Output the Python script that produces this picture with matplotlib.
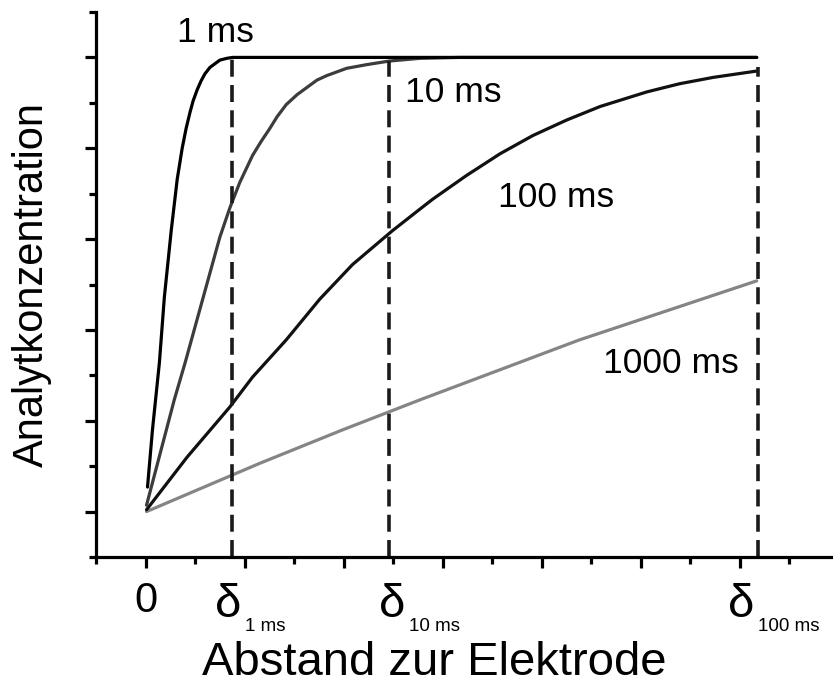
import matplotlib
matplotlib.use("Agg")
import matplotlib.pyplot as plt
from matplotlib.ticker import MultipleLocator, NullFormatter

plt.rcParams['font.family'] = ['Liberation Sans', 'DejaVu Sans']

# Werte (x: Abstand, y: Konzentration, beliebige Einheiten)
x_1ms = [0.02, 0.07, 0.14, 0.19, 0.26, 0.32, 0.37, 0.41, 0.45, 0.48, 0.52, 0.56, 0.60,
         0.65, 0.70, 0.75, 0.82, 0.88, 6.17]
y_1ms = [0.27, 0.90, 1.64, 2.36, 3.10, 3.66, 4.00, 4.22, 4.40, 4.52, 4.64, 4.74, 4.82,
         4.89, 4.93, 4.97, 4.99, 5.00, 5.00]

x_10ms = [0.01, 0.29, 0.40, 0.75, 0.85, 0.95, 1.08, 1.17, 1.25, 1.33, 1.42, 1.53, 1.63,
          1.73, 1.83, 2.03, 2.23, 2.46, 2.77, 3.17, 6.17]
y_10ms = [0.07, 1.23, 1.64, 3.02, 3.34, 3.62, 3.92, 4.08, 4.21, 4.35, 4.48, 4.59, 4.67,
          4.75, 4.80, 4.88, 4.92, 4.96, 4.99, 5.00, 5.00]

x_100ms = [0.01, 0.42, 0.85, 1.08, 1.42, 1.76, 2.09, 2.49, 2.77, 2.90, 3.24, 3.58, 3.91,
           4.25, 4.59, 5.06, 5.39, 5.73, 6.17]
y_100ms = [0.02, 0.60, 1.15, 1.48, 1.89, 2.34, 2.72, 3.09, 3.33, 3.44, 3.70, 3.94, 4.14,
           4.31, 4.46, 4.62, 4.71, 4.78, 4.85]

x_1000ms = [0.01, 1.15, 1.99, 2.77, 4.38, 6.17]
y_1000ms = [0.00, 0.53, 0.90, 1.23, 1.89, 2.54]

# Diffusionsschichtdicken (gestrichelte Linien)
delta_x = [0.87, 2.46, 6.18]
delta_top = [5.00, 4.96, 4.90]
delta_sub = ["1 ms", "10 ms", "100 ms"]

fig = plt.figure(figsize=(8.33, 6.84), dpi=100)
ax = fig.add_axes([96 / 833, 127 / 684, 737 / 833, 545 / 684])

lw = 2.3
style = dict(lw=lw, solid_capstyle="round", solid_joinstyle="round")
ax.plot(x_1000ms, y_1000ms, color="#858585", **style)
ax.plot(x_100ms, y_100ms, color="#111111", **style)
ax.plot(x_10ms, y_10ms, color="#3c3c3c", **style)
ax.plot(x_1ms, y_1ms, color="#000000", **style)

ymin, ymax = -0.5, 5.5
for xd, yt in zip(delta_x, delta_top):
    ax.plot([xd, xd], [ymin, yt], color="#1a1a1a", lw=2.6, dashes=(4.7, 2.3))

# Beschriftung der Kurven
ax.text(0.32, 5.17, "1 ms", fontsize=25.5, va="baseline", clip_on=False)
ax.text(2.62, 4.51, "10 ms", fontsize=25.5, va="baseline")
ax.text(3.56, 3.35, "100 ms", fontsize=25.5, va="baseline")
ax.text(4.62, 1.53, "1000 ms", fontsize=25.5, va="baseline")

ax.set_xlim(-0.5, 6.94)
ax.set_ylim(ymin, ymax)

for s in ["top", "right"]:
    ax.spines[s].set_visible(False)
for s in ["left", "bottom"]:
    ax.spines[s].set_linewidth(2.3)

ax.xaxis.set_major_locator(MultipleLocator(1))
ax.xaxis.set_minor_locator(MultipleLocator(0.5))
ax.yaxis.set_major_locator(MultipleLocator(1))
ax.yaxis.set_minor_locator(MultipleLocator(0.5))
ax.xaxis.set_major_formatter(NullFormatter())
ax.yaxis.set_major_formatter(NullFormatter())
ax.tick_params(which="major", length=8, width=2.3, direction="out")
ax.tick_params(which="minor", length=5, width=2.3, direction="out")

# x-Achsenbeschriftungen: 0 und die delta-Werte
ax.text(0.0, -1.11, "0", fontsize=30, ha="center", va="baseline", clip_on=False)
sub_left = [1.00, 2.66, 6.18]
delta_left = [0.70, 2.36, 5.88]
for dl, sl, lab in zip(delta_left, sub_left, delta_sub):
    ax.text(dl, -1.165, "δ", fontsize=34, ha="left", va="baseline", clip_on=False)
    ax.text(sl, -1.31, lab, fontsize=13.5, ha="left", va="baseline", clip_on=False)

ax.set_xlabel("Abstand zur Elektrode", fontsize=34, va="baseline")
ax.set_ylabel("Analytkonzentration", fontsize=30)
ax.xaxis.set_label_coords((434 - 96) / 737, -(675 - 557) / 545)
ax.yaxis.set_label_coords(-(96 - 52) / 737, 0.5)

fig.savefig("out.png", dpi=100)
